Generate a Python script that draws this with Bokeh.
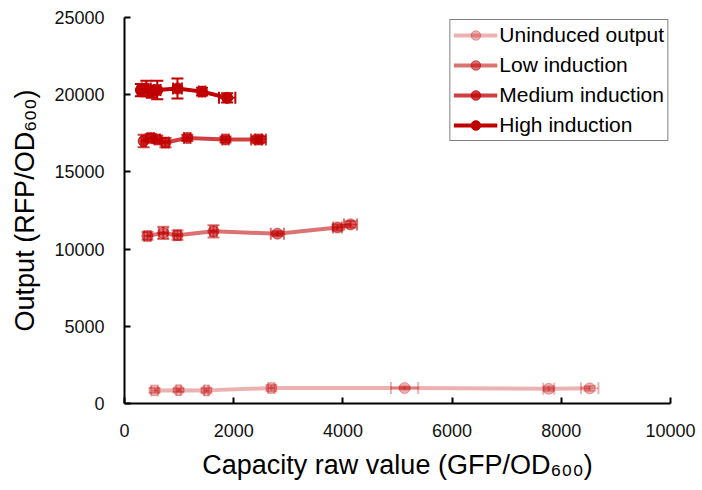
from bokeh.plotting import figure
from bokeh.models import Whisker, ColumnDataSource, TeeHead, Legend, LegendItem, FixedTicker
from bokeh.embed import file_html
from bokeh.resources import INLINE

# Data
uni_x = [550, 990, 1500, 2690, 5130, 7770, 8520]
uni_y = [850, 860, 850, 1000, 1000, 950, 980]
uni_xerr = [60, 40, 40, 60, 250, 100, 160]
uni_yerr = [150, 120, 150, 200, 100, 150, 150]

low_x = [420, 710, 970, 1630, 2800, 3900, 4140]
low_y = [10850, 11050, 10900, 11150, 11000, 11400, 11600]
low_xerr = [60, 80, 60, 60, 120, 80, 120]
low_yerr = [250, 400, 300, 400, 150, 200, 200]

med_x = [350, 480, 600, 750, 1150, 1850, 2420, 2490]
med_y = [17000, 17200, 17100, 16900, 17200, 17100, 17100, 17100]
med_xerr = [40, 60, 50, 60, 60, 60, 100, 100]
med_yerr = [400, 250, 250, 300, 200, 200, 200, 200]

high_x = [300, 400, 500, 600, 970, 1420, 1880]
high_y = [20300, 20400, 20200, 20300, 20400, 20200, 19800]
high_xerr = [60, 80, 80, 60, 80, 60, 150]
high_yerr = [400, 500, 400, 600, 650, 250, 300]

names = ["Uninduced output", "Low induction", "Medium induction", "High induction"]
colors = ["#c00000", "#c00000", "#c00000", "#c00000"]
alphas = [0.3, 0.55, 0.75, 1.0]

x_ticks = [0, 2000, 4000, 6000, 8000, 10000]
y_ticks = [0, 5000, 10000, 15000, 20000, 25000]

FONT = "Liberation Sans"

p = figure(width=702, height=490, output_backend="svg", toolbar_location=None,
           x_range=(0, 10000), y_range=(0, 25000),
           min_border_left=124, min_border_right=32, min_border_top=17, min_border_bottom=87)
p.outline_line_color = None
p.grid.visible = False
p.background_fill_color = "white"

for ax in (p.xaxis, p.yaxis):
    ax.axis_line_width = 2
    ax.axis_line_color = "black"
    ax.major_tick_in = 6
    ax.major_tick_out = 0
    ax.major_tick_line_width = 2
    ax.minor_tick_line_color = None
    ax.major_label_text_font = FONT
    ax.major_label_text_font_size = "18px"
    ax.major_label_text_color = "#111111"
    ax.axis_label_text_font = FONT
    ax.axis_label_text_font_size = "27px"
    ax.axis_label_text_font_style = "normal"
    ax.axis_label_text_color = "black"
p.xaxis.ticker = FixedTicker(ticks=x_ticks)
p.yaxis.ticker = FixedTicker(ticks=y_ticks)
p.xaxis.major_label_standoff = 20
p.yaxis.major_label_standoff = 20
p.xaxis.axis_label = "Capacity raw value (GFP/OD\u2086\u2080\u2080)"
p.yaxis.axis_label = "Output (RFP/OD\u2086\u2080\u2080)"
p.xaxis.axis_label_standoff = 10
p.yaxis.axis_label_standoff = 11

series = [
    (uni_x, uni_y, uni_xerr, uni_yerr),
    (low_x, low_y, low_xerr, low_yerr),
    (med_x, med_y, med_xerr, med_yerr),
    (high_x, high_y, high_xerr, high_yerr),
]

items = []
for (xs, ys, xe, ye), name, c, a in zip(series, names, colors, alphas):
    src = ColumnDataSource(dict(
        x=xs, y=ys,
        xl=[v - e for v, e in zip(xs, xe)], xu=[v + e for v, e in zip(xs, xe)],
        yl=[v - e for v, e in zip(ys, ye)], yu=[v + e for v, e in zip(ys, ye)],
    ))
    wy = Whisker(source=src, base="x", lower="yl", upper="yu", dimension="height",
                 line_color=c, line_alpha=a, line_width=2,
                 upper_head=TeeHead(size=12, line_color=c, line_alpha=a, line_width=2),
                 lower_head=TeeHead(size=12, line_color=c, line_alpha=a, line_width=2))
    wx = Whisker(source=src, base="y", lower="xl", upper="xu", dimension="width",
                 line_color=c, line_alpha=a, line_width=2,
                 upper_head=TeeHead(size=12, line_color=c, line_alpha=a, line_width=2),
                 lower_head=TeeHead(size=12, line_color=c, line_alpha=a, line_width=2))
    p.add_layout(wy)
    p.add_layout(wx)
    ln = p.line("x", "y", source=src, line_color=c, line_alpha=a, line_width=4)
    sc = p.scatter("x", "y", source=src, marker="circle", size=11,
                   fill_color=c, fill_alpha=a, line_color=c, line_alpha=a)
    items.append(LegendItem(label=name, renderers=[ln, sc]))

legend = Legend(items=items, location="top_right")
legend.label_text_font = FONT
legend.label_text_font_size = "21px"
legend.label_text_color = "black"
legend.border_line_color = "black"
legend.border_line_width = 1.5
legend.glyph_width = 44
legend.glyph_height = 24
legend.label_height = 24
legend.spacing = 6
legend.padding = 3
legend.margin = 2
legend.label_standoff = 2
legend.background_fill_alpha = 1.0
p.add_layout(legend)

open("out.html", "w").write(file_html(p, INLINE))
